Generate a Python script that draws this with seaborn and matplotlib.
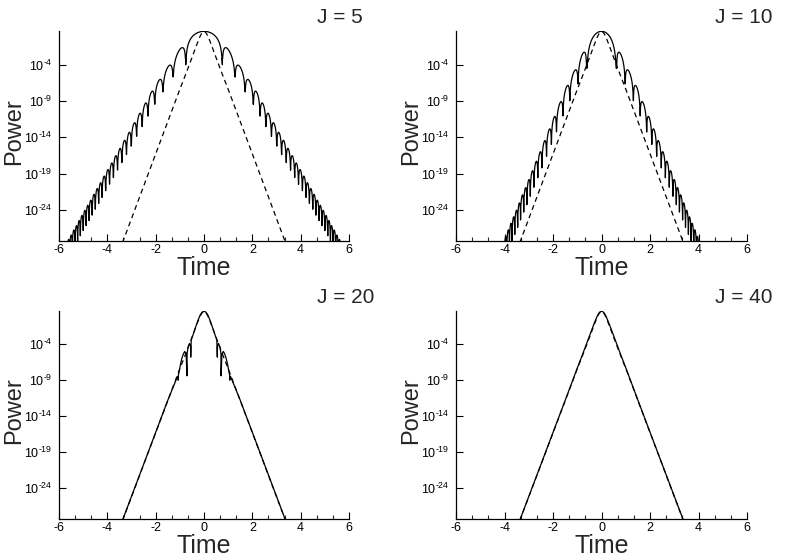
import numpy as np
import matplotlib
matplotlib.use("Agg")
import matplotlib.pyplot as plt
import seaborn as sns
from matplotlib.ticker import MultipleLocator, NullLocator

# ---------------- data ----------------
PANEL_TITLES = ["J = 5", "J = 10", "J = 20", "J = 40"]
X_MAJOR_TICKS = [-6, -4, -2, 0, 2, 4, 6]
X_TICK_LABELS = ["-6", "-4", "-2", "0", "2", "4", "6"]
Y_TICK_EXPONENTS = [-4, -9, -14, -19, -24]
LOG_YLIM = (-28.3, 0.62)

# dashed reference pulse (right half, symmetric about t = 0), log10(power)
REF_T = [0, 0.05, 0.1, 0.15, 0.2, 0.25, 0.3, 0.4, 0.5, 0.6, 0.8, 1.0, 1.5, 2.0, 2.5, 3.0, 3.5]
REF_LOGP = [0.56, 0.48, 0.28, -0.02, -0.4, -0.82, -1.25, -2.15, -3.05, -3.95, -5.7, -7.4,
            -11.85, -16.3, -20.75, -25.2, -29.65]

# J = 5 : main lobe + side lobes (right half; dips = lobe boundaries)
J5_MAIN_PEAK = 0.58
J5_MAIN_DEPTH = 4.6
J5_MAIN_SHARPNESS = 1.35
J5_DIPS = [0.76, 1.28, 1.70, 2.04, 2.32, 2.56, 2.79, 3.01, 3.21, 3.40, 3.58, 3.75, 3.91, 4.07,
           4.22, 4.36, 4.50, 4.63, 4.76, 4.88, 5.00, 5.12, 5.23, 5.34, 5.45, 5.56, 5.66, 5.76]
J5_LOBE_PEAKS = [-2.0, -4.3, -6.2, -7.8, -9.4, -10.8, -12.1, -13.4, -14.5, -15.6, -16.6, -17.6,
                 -18.5, -19.4, -20.3, -21.1, -21.9, -22.7, -23.4, -24.1, -24.8, -25.5, -26.2,
                 -26.8, -27.5, -28.1, -28.7]
J5_DIP_DEPTH = 2.4

# J = 10
J10_MAIN_PEAK = 0.58
J10_MAIN_DEPTH = 5.1
J10_MAIN_SHARPNESS = 2.0
J10_DIPS = [0.62, 0.97, 1.31, 1.59, 1.86, 2.07, 2.27, 2.46, 2.63, 2.79, 2.94, 3.08, 3.21, 3.34,
            3.46, 3.58, 3.69, 3.80, 3.91, 4.01, 4.11]
J10_LOBE_PEAKS = [-2.6, -5.0, -7.1, -9.35, -11.3, -13.0, -14.6, -16.1, -17.4, -18.7, -19.9,
                  -21.0, -22.0, -23.1, -24.1, -25.0, -25.9, -26.8, -27.7, -28.5]
J10_DIP_DEPTH = 2.8

# J = 20 (right half, symmetric)
J20_T = [0.00, 0.08, 0.16, 0.24, 0.32, 0.40, 0.47, 0.53, 0.55, 0.555, 0.60, 0.66, 0.70, 0.705,
         0.74, 0.80, 0.86, 0.92, 0.98, 1.03, 1.06, 1.065, 1.10, 1.5, 2.0, 2.5, 3.0, 3.5]
J20_LOGP = [0.58, 0.45, 0.05, -0.6, -1.35, -2.15, -2.85, -3.4, -5.8, -4.3, -3.9, -4.4, -5.3,
            -8.4, -5.4, -5.0, -5.4, -6.0, -6.9, -7.8, -8.3, -9.0, -8.5, -11.8, -16.25, -20.7,
            -25.15, -29.6]

# J = 40 (right half, symmetric)
J40_T = [0, 0.05, 0.1, 0.15, 0.2, 0.25, 0.3, 0.4, 0.5, 0.6, 0.8, 1.0, 1.5, 2.0, 2.5, 3.0, 3.5]
J40_LOGP = [0.58, 0.52, 0.36, 0.1, -0.25, -0.65, -1.07, -1.95, -2.85, -3.75, -5.55, -7.3,
            -11.8, -16.25, -20.7, -25.15, -29.6]


# ---------------- helpers ----------------
def mirror(t, logp):
    t = np.asarray(t, float)
    lp = np.asarray(logp, float)
    return np.concatenate([-t[::-1], t[1:]]), np.concatenate([lp[::-1], lp[1:]])


def lobed(main_peak, main_depth, sharp, dips, peaks, depth, n=48):
    dips = np.asarray(dips, float)
    peaks = np.asarray(peaks, float)
    centers = 0.5 * (dips[:-1] + dips[1:])
    slopes = np.gradient(peaks, centers)
    s = np.linspace(0, 1, n)
    u = 0.5 * (1 - np.cos(np.pi * s))
    shape = np.log10(np.sin(np.pi * u) ** 2 + 1e-300)
    e0 = dips[0]
    xm = -e0 + 2 * e0 * u
    lm = main_peak + np.maximum(sharp * shape, -main_depth)
    rx, rl = [], []
    for a, b, p, c, sl in zip(dips[:-1], dips[1:], peaks, centers, slopes):
        x = a + (b - a) * u
        rx.append(x)
        rl.append(p + sl * (x - c) + np.maximum(shape, -depth))
    rx = np.concatenate(rx)
    rl = np.concatenate(rl)
    return np.concatenate([-rx[::-1], xm, rx]), np.concatenate([rl[::-1], lm, rl])


ref_t, ref_lp = mirror(REF_T, REF_LOGP)
solids = [
    lobed(J5_MAIN_PEAK, J5_MAIN_DEPTH, J5_MAIN_SHARPNESS, J5_DIPS, J5_LOBE_PEAKS, J5_DIP_DEPTH),
    lobed(J10_MAIN_PEAK, J10_MAIN_DEPTH, J10_MAIN_SHARPNESS, J10_DIPS, J10_LOBE_PEAKS,
          J10_DIP_DEPTH),
    mirror(J20_T, J20_LOGP),
    mirror(J40_T, J40_LOGP),
]

# ---------------- figure ----------------
sns.set_style("ticks")
plt.rcParams["font.family"] = ["Liberation Sans", "DejaVu Sans"]
plt.rcParams["mathtext.fontset"] = "custom"
plt.rcParams["mathtext.rm"] = "Liberation Sans"
plt.rcParams["mathtext.it"] = "Liberation Sans:italic"
plt.rcParams["axes.unicode_minus"] = False

fig = plt.figure(figsize=(7.85, 5.58), dpi=100)
positions = [
    [0.0752, 0.568, 0.3694, 0.3764],
    [0.5810, 0.568, 0.3707, 0.3764],
    [0.0752, 0.0699, 0.3694, 0.3728],
    [0.5810, 0.0699, 0.3707, 0.3728],
]

for pos, title, (st, slp) in zip(positions, PANEL_TITLES, solids):
    ax = fig.add_axes(pos)
    sns.lineplot(x=ref_t, y=10.0 ** ref_lp, ax=ax, sort=False, estimator=None,
                 color="black", lw=0.9, linestyle=(0, (4, 3)))
    sns.lineplot(x=st, y=10.0 ** slp, ax=ax, sort=False, estimator=None,
                 color="black", lw=0.9)
    ax.set_yscale("log")
    ax.set_xlim(-6, 6)
    ax.set_ylim(10 ** LOG_YLIM[0], 10 ** LOG_YLIM[1])
    ax.set_yticks([10.0 ** e for e in Y_TICK_EXPONENTS])
    ax.set_yticklabels([r"$\mathregular{10^{\text{-}%d}}$" % (-e) for e in Y_TICK_EXPONENTS])
    ax.yaxis.set_minor_locator(NullLocator())
    ax.set_xticks(X_MAJOR_TICKS)
    ax.set_xticklabels(X_TICK_LABELS)
    ax.xaxis.set_minor_locator(MultipleLocator(2 / 3))
    ax.tick_params(axis="both", which="major", direction="in", length=5, width=0.8,
                   color="black", labelcolor="black")
    ax.tick_params(axis="x", which="major", labelsize=9, pad=2)
    ax.tick_params(axis="y", which="major", labelsize=9, pad=5)
    ax.tick_params(axis="x", which="minor", direction="in", length=3, width=0.8)
    sns.despine(ax=ax)
    for sp in ("left", "bottom"):
        ax.spines[sp].set_linewidth(0.9)
        ax.spines[sp].set_color("black")
    ax.set_xlabel("Time", fontsize=18)
    ax.xaxis.label.set_verticalalignment("center")
    ax.xaxis.set_label_coords(0.5, -0.128)
    ax.set_ylabel("Power", fontsize=17)
    ax.yaxis.label.set_verticalalignment("center")
    ax.yaxis.set_label_coords(-0.155, 0.52)
    ax.text(0.89, 1.065, title, transform=ax.transAxes, fontsize=15,
            ha="left", va="center")

fig.savefig("out.png", dpi=100)
